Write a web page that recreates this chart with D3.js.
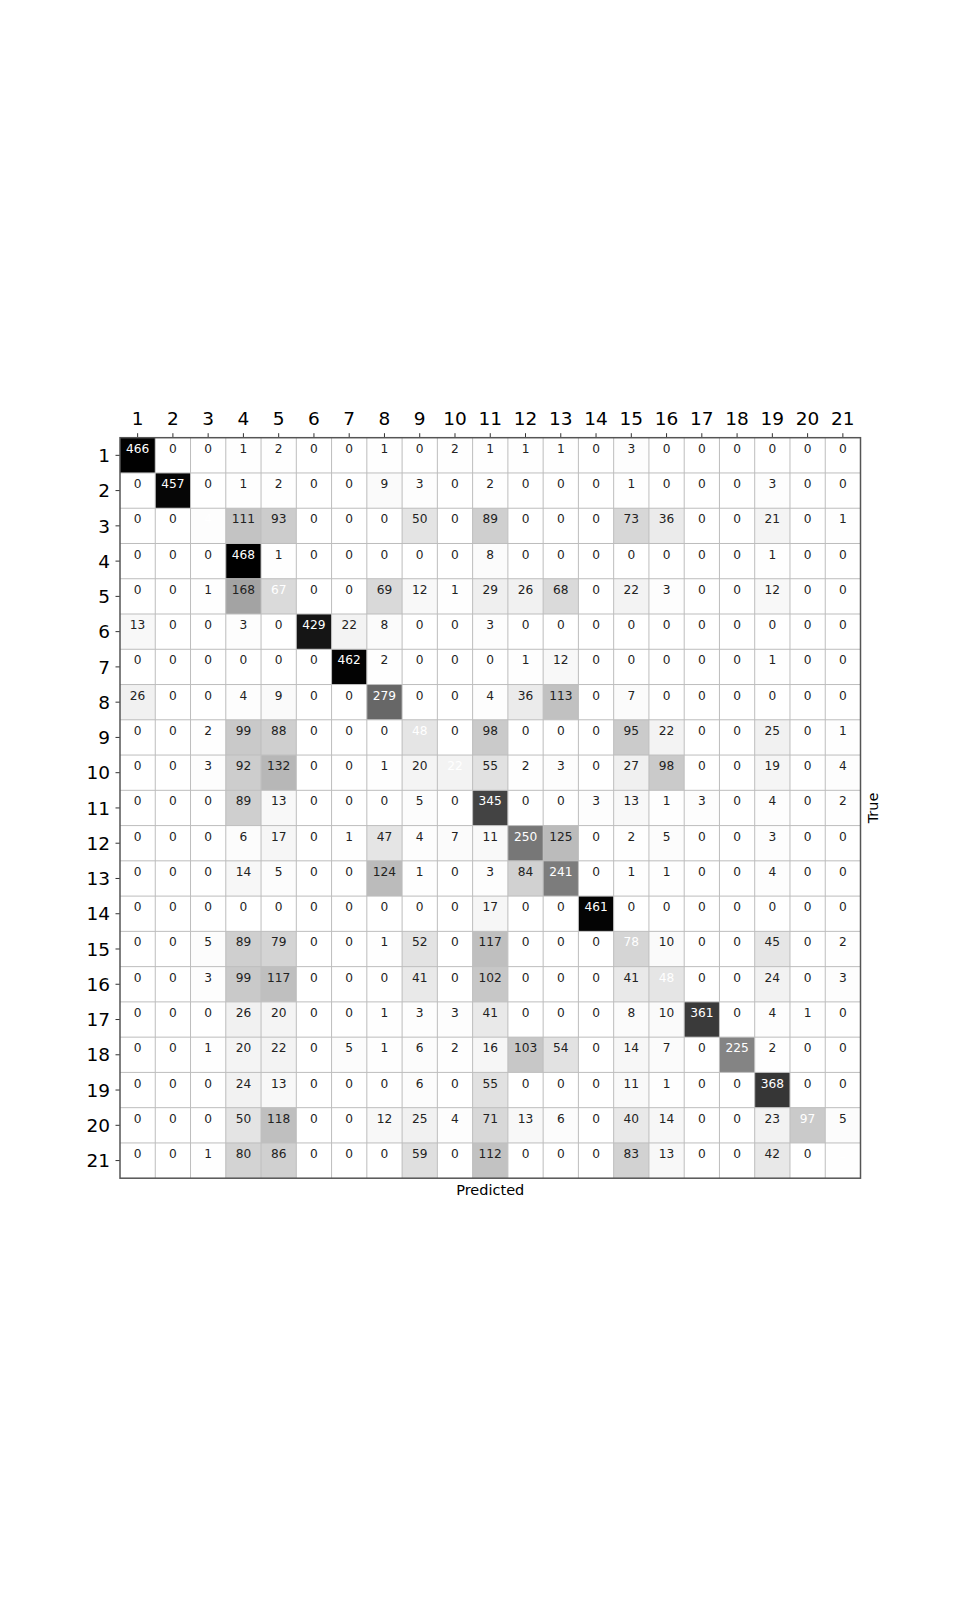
<!DOCTYPE html>
<html>
<head>
<meta charset="utf-8">
<script src="https://cdn.jsdelivr.net/npm/d3@7"></script>
<style>
  body { margin: 0; background: #fff; }
  svg text { font-family: "DejaVu Sans", sans-serif; }
</style>
</head>
<body>
<script>
// class labels, same for true and predicted
const classLabels = d3.range(1, 22).map(String);

// confusion counts, one row per true class
const counts = [
  [466,0,0,1,2,0,0,1,0,2,1,1,1,0,3,0,0,0,0,0,0],
  [0,457,0,1,2,0,0,9,3,0,2,0,0,0,1,0,0,0,3,0,0],
  [0,0,4,111,93,0,0,0,50,0,89,0,0,0,73,36,0,0,21,0,1],
  [0,0,0,468,1,0,0,0,0,0,8,0,0,0,0,0,0,0,1,0,0],
  [0,0,1,168,67,0,0,69,12,1,29,26,68,0,22,3,0,0,12,0,0],
  [13,0,0,3,0,429,22,8,0,0,3,0,0,0,0,0,0,0,0,0,0],
  [0,0,0,0,0,0,462,2,0,0,0,1,12,0,0,0,0,0,1,0,0],
  [26,0,0,4,9,0,0,279,0,0,4,36,113,0,7,0,0,0,0,0,0],
  [0,0,2,99,88,0,0,0,48,0,98,0,0,0,95,22,0,0,25,0,1],
  [0,0,3,92,132,0,0,1,20,22,55,2,3,0,27,98,0,0,19,0,4],
  [0,0,0,89,13,0,0,0,5,0,345,0,0,3,13,1,3,0,4,0,2],
  [0,0,0,6,17,0,1,47,4,7,11,250,125,0,2,5,0,0,3,0,0],
  [0,0,0,14,5,0,0,124,1,0,3,84,241,0,1,1,0,0,4,0,0],
  [0,0,0,0,0,0,0,0,0,0,17,0,0,461,0,0,0,0,0,0,0],
  [0,0,5,89,79,0,0,1,52,0,117,0,0,0,78,10,0,0,45,0,2],
  [0,0,3,99,117,0,0,0,41,0,102,0,0,0,41,48,0,0,24,0,3],
  [0,0,0,26,20,0,0,1,3,3,41,0,0,0,8,10,361,0,4,1,0],
  [0,0,1,20,22,0,5,1,6,2,16,103,54,0,14,7,0,225,2,0,0],
  [0,0,0,24,13,0,0,0,6,0,55,0,0,0,11,1,0,0,368,0,0],
  [0,0,0,50,118,0,0,12,25,4,71,13,6,0,40,14,0,0,23,97,5],
  [0,0,1,80,86,0,0,0,59,0,112,0,0,0,83,13,0,0,42,0,2]
];

const xTitle = "Predicted", yTitle = "True";

const W = 956, H = 1600;
const gLeft = 120, gTop = 437.7, size = 740.5;

const svg = d3.select("body").append("svg")
  .attr("width", W).attr("height", H);

const x = d3.scaleBand().domain(classLabels).range([gLeft, gLeft + size]);
const y = d3.scaleBand().domain(classLabels).range([gTop, gTop + size]);
const color = d3.scaleLinear()
  .domain([0, d3.max(counts.flat())])
  .range(["#ffffff", "#000000"]);

// flatten to cells
const cells = [];
counts.forEach((row, i) => row.forEach((v, j) => {
  cells.push({ t: classLabels[i], p: classLabels[j], v: v, diag: i === j });
}));

svg.append("g").selectAll("rect")
  .data(cells).join("rect")
  .attr("x", d => x(d.p))
  .attr("y", d => y(d.t))
  .attr("width", x.bandwidth())
  .attr("height", y.bandwidth())
  .attr("fill", d => color(d.v));

// grid at the cell borders
const edges = d3.range(1, classLabels.length);
const grid = svg.append("g").attr("stroke", "#bdbdbd").attr("stroke-width", 1);
grid.selectAll(".gx").data(edges).join("line").attr("class", "gx")
  .attr("x1", i => gLeft + i * x.step()).attr("x2", i => gLeft + i * x.step())
  .attr("y1", gTop).attr("y2", gTop + size);
grid.selectAll(".gy").data(edges).join("line").attr("class", "gy")
  .attr("y1", i => gTop + i * y.step()).attr("y2", i => gTop + i * y.step())
  .attr("x1", gLeft).attr("x2", gLeft + size);

// cell values
svg.append("g").selectAll("text")
  .data(cells).join("text")
  .attr("x", d => x(d.p) + x.bandwidth() / 2)
  .attr("y", d => y(d.t) + y.bandwidth() / 2 - 2.5)
  .attr("text-anchor", "middle")
  .attr("font-size", 12.2)
  .attr("fill", d => d.diag ? "#ffffff" : "#222222")
  .text(d => d.v);

// axes
const xAxis = svg.append("g")
  .attr("transform", `translate(0,${gTop})`)
  .call(d3.axisTop(x).tickSize(4.5).tickPadding(8));
const yAxis = svg.append("g")
  .attr("transform", `translate(${gLeft},0)`)
  .call(d3.axisLeft(y).tickSize(4.5).tickPadding(5.5));
[xAxis, yAxis].forEach(a => {
  a.select(".domain").remove();
  a.selectAll("text").attr("font-size", 18.5).attr("font-family", "DejaVu Sans").attr("fill", "#000");
  a.selectAll("line").attr("stroke", "#333");
});
yAxis.selectAll("text").attr("dy", "0.36em");

// frame
svg.append("rect")
  .attr("x", gLeft).attr("y", gTop)
  .attr("width", size).attr("height", size)
  .attr("fill", "none").attr("stroke", "#555").attr("stroke-width", 1.5);

svg.append("text")
  .attr("x", gLeft + size / 2).attr("y", gTop + size + 16.5)
  .attr("text-anchor", "middle").attr("font-size", 14.5)
  .text(xTitle);

svg.append("text")
  .attr("transform", `translate(${gLeft + size + 17},${gTop + size / 2}) rotate(-90)`)
  .attr("text-anchor", "middle").attr("font-size", 14.5)
  .text(yTitle);
</script>
</body>
</html>
